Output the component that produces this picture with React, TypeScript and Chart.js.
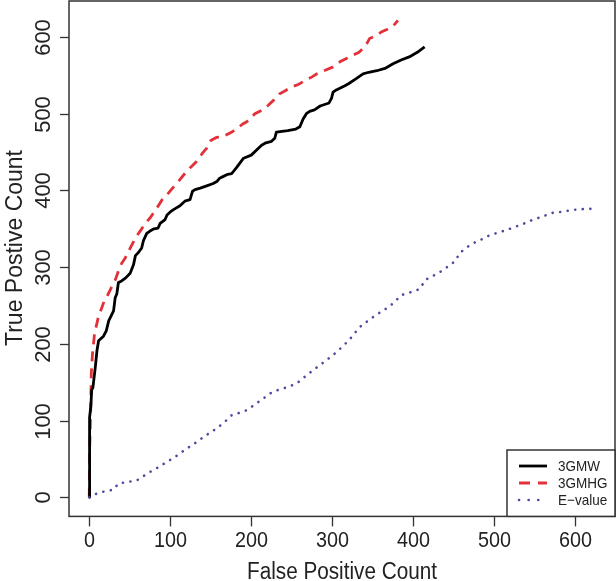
import React, { useEffect, useRef } from "react";
import { Chart, registerables } from "chart.js";

Chart.register(...registerables);

// ---- data ----
const gmwX = [0, 0.4, 2, 3, 4.5, 7.4, 9.5, 11.5, 17.6, 21, 24, 30, 32, 34, 36, 40, 45, 50.5, 54.6, 57, 60.7, 64.7, 67, 71, 75, 80, 85, 87.5, 93.6, 96, 100, 104, 112, 118, 124.4, 127.5, 130.6, 137, 145, 153, 158, 161, 165, 171, 175.8, 182, 190.5, 200, 212.7, 218, 225, 229, 231, 238, 245, 255, 260, 264, 268, 272, 278, 285, 296, 299, 301, 305, 315, 320, 330, 338, 345, 355, 365, 375, 385, 395, 405, 414];
const gmwY = [0, 104, 119, 140, 143, 169, 191, 204, 210, 217, 230, 243, 260, 265, 280, 282, 286, 292, 303, 315, 319, 325, 335, 344, 347, 350, 351, 357, 362, 368, 372, 375, 380, 386, 388, 399, 401, 403, 406, 409, 412, 416, 418, 421, 422, 430, 442, 446, 459, 462, 464, 468, 476, 477, 478, 480, 483, 493, 500, 503, 505, 510, 514, 520, 528, 531, 536, 539, 546, 552, 554, 556, 559, 565, 570, 574, 580, 587];

const mhgX = [0, 0.5, 1.7, 2.5, 4, 6.5, 11, 18.5, 21, 28, 32, 36, 40, 44.4, 52.6, 58, 62.8, 70, 75, 83.4, 90, 95.7, 102, 108, 118, 125, 132.7, 140, 145, 150, 157, 165, 176, 184, 190, 194, 204.5, 214, 221, 228, 235, 242, 249.7, 258, 266, 275, 281, 292, 301, 310, 317.5, 325, 333, 338, 343, 346, 355, 360.6, 368, 375, 381];
const mhgY = [0, 60, 109, 161, 187, 213, 234, 256, 260, 275, 283, 295, 305, 312, 329, 340, 347, 358, 364, 377, 388, 394, 402, 409, 422, 430, 438, 449, 455, 465, 469, 470, 476, 482, 487, 489, 500, 505, 511, 518, 526, 530, 535, 538, 543, 548, 552, 557, 561, 568, 572, 576, 580, 585, 592, 598, 602, 606.5, 610, 614, 621.7];

const evalX = [0, 9.5, 20, 30, 36, 47, 58.7, 66, 75, 85, 93.6, 105, 112, 118, 126.5, 135, 143, 152, 160, 168, 175, 185, 195.5, 203, 210.7, 219, 227, 237, 247.6, 258, 266, 275, 283, 290.7, 298, 306, 313, 320.7, 327, 334, 344, 352.7, 362, 371, 378, 385.6, 396, 408, 415, 425, 435, 443, 452, 457, 465, 473.5, 484, 494, 505, 516.6, 527, 537, 548, 560, 570, 582, 593, 605, 618.5, 624];
const evalY = [0, 5, 8, 10, 18, 20, 22, 27, 33, 39, 44.6, 52, 57, 62, 67.5, 74, 80, 86, 92, 99, 106.5, 110, 114, 120, 125.6, 132, 138, 141, 144.6, 150, 157, 164.5, 171, 177, 183, 190, 197, 204.8, 213, 222, 230, 236.7, 243, 249, 256, 263.6, 267, 271.5, 283.5, 289, 295, 301, 308, 318, 325, 331, 336, 341.6, 345, 349, 353, 357, 362, 366, 370.5, 372, 374, 375.5, 376, 376];

const seriesLabels = ["3GMW", "3GMHG", "E\u2212value"];
const xTicks = [0, 100, 200, 300, 400, 500, 600];
const yTicks = [0, 100, 200, 300, 400, 500, 600];
const xTitle = "False Positive Count";
const yTitle = "True Postive Count";

const zip = (xs: number[], ys: number[]) => xs.map((x, i) => ({ x, y: ys[i] }));

const FONT = "'Liberation Sans', Arial, Helvetica, sans-serif";
const BLACK = "#000000";
const RED = "#E3313A";
const BLUE = "#4B4A9C";
const TEXT = "#222222";
const SQUEEZE = 0.9; // slight horizontal compression seen in the reference text

function drawText(ctx: CanvasRenderingContext2D, text: string, x: number, y: number, size: number, vertical: boolean, align: CanvasTextAlign = "center") {
  ctx.save();
  ctx.font = `${size}px ${FONT}`;
  ctx.textAlign = align;
  ctx.textBaseline = "middle";
  ctx.fillStyle = TEXT;
  ctx.translate(x, y);
  if (vertical) {
    ctx.rotate(-Math.PI / 2);
  } else {
    ctx.scale(SQUEEZE, 1);
  }
  ctx.fillText(text, 0, 0);
  ctx.restore();
}

const framePlugin = {
  id: "rframe",
  afterDatasetsDraw(chart: any) {
    const { ctx, chartArea: a, scales } = chart;
    const xs = scales.x;
    const ys = scales.y;
    ctx.save();
    ctx.strokeStyle = "#333333";
    ctx.lineWidth = 1.5;
    ctx.setLineDash([]);
    ctx.strokeRect(a.left, a.top, a.right - a.left, a.bottom - a.top);

    ctx.lineWidth = 1.3;
    xTicks.forEach((v) => {
      const px = Math.round(xs.getPixelForValue(v)) + 0.5;
      ctx.beginPath();
      ctx.moveTo(px, a.bottom);
      ctx.lineTo(px, a.bottom + 10);
      ctx.stroke();
      drawText(ctx, String(v), px, 541, 22, false);
    });
    yTicks.forEach((v) => {
      const py = Math.round(ys.getPixelForValue(v)) + 0.5;
      ctx.beginPath();
      ctx.moveTo(a.left, py);
      ctx.lineTo(a.left - 9, py);
      ctx.stroke();
      drawText(ctx, String(v), 44, py, 22, true);
    });
    // axis titles
    drawText(ctx, xTitle, (a.left + a.right) / 2, 573, 23, false);
    drawText(ctx, yTitle, 16, 248, 23, true);

    // legend
    const lx = 507;
    const ly = 450;
    ctx.fillStyle = "#ffffff";
    ctx.fillRect(lx, ly, a.right - lx, a.bottom - ly);
    ctx.strokeStyle = "#333333";
    ctx.lineWidth = 1.5;
    ctx.strokeRect(lx, ly, a.right - lx, a.bottom - ly);
    const rows = [466, 483, 500];
    const styles = [
      { color: BLACK, dash: [] as number[], cap: "butt", w: 2.8 },
      { color: RED, dash: [11, 8], cap: "butt", w: 2.8 },
      { color: BLUE, dash: [0.1, 9.5], cap: "round", w: 2.6 },
    ];
    seriesLabels.forEach((lab, i) => {
      const s = styles[i];
      ctx.strokeStyle = s.color;
      ctx.lineWidth = s.w;
      ctx.lineCap = s.cap as CanvasLineCap;
      ctx.setLineDash(s.dash);
      ctx.beginPath();
      ctx.moveTo(519, rows[i]);
      ctx.lineTo(547, rows[i]);
      ctx.stroke();
      ctx.setLineDash([]);
      drawText(ctx, lab, 558, rows[i] + 1, 15, false, "left");
    });
    ctx.restore();
  },
};

export default function App() {
  const ref = useRef<HTMLCanvasElement | null>(null);
  useEffect(() => {
    document.body.style.margin = "0";
    document.body.style.overflow = "hidden";
    if (!ref.current) return;
    const chart = new Chart(ref.current, {
      type: "scatter",
      data: {
        datasets: [
          {
            label: seriesLabels[2],
            data: zip(evalX, evalY),
            showLine: true,
            borderColor: BLUE,
            borderWidth: 2.6,
            borderDash: [0.1, 7.5],
            borderCapStyle: "round",
            pointRadius: 0,
            tension: 0,
          },
          {
            label: seriesLabels[0],
            data: zip(gmwX, gmwY),
            showLine: true,
            borderColor: BLACK,
            borderWidth: 2.8,
            borderJoinStyle: "round",
            pointRadius: 0,
            tension: 0,
          },
          {
            label: seriesLabels[1],
            data: zip(mhgX, mhgY),
            showLine: true,
            borderColor: RED,
            borderWidth: 2.8,
            borderDash: [10, 7],
            pointRadius: 0,
            tension: 0,
          },
        ],
      },
      options: {
        animation: false,
        responsive: false,
        devicePixelRatio: 1,
        layout: { padding: { left: 69, top: 1, right: 1, bottom: 64.6 } },
        plugins: { legend: { display: false }, tooltip: { enabled: false } },
        scales: {
          x: { type: "linear", min: -25, max: 649, display: false },
          y: { type: "linear", min: -24.9, max: 646.9, display: false },
        },
      },
      plugins: [framePlugin],
    } as any);
    return () => chart.destroy();
  }, []);
  return (
    <div style={{ width: 616, height: 581, position: "relative" }}>
      <canvas ref={ref} width={616} height={581} style={{ width: 616, height: 581, display: "block" }} />
    </div>
  );
}
